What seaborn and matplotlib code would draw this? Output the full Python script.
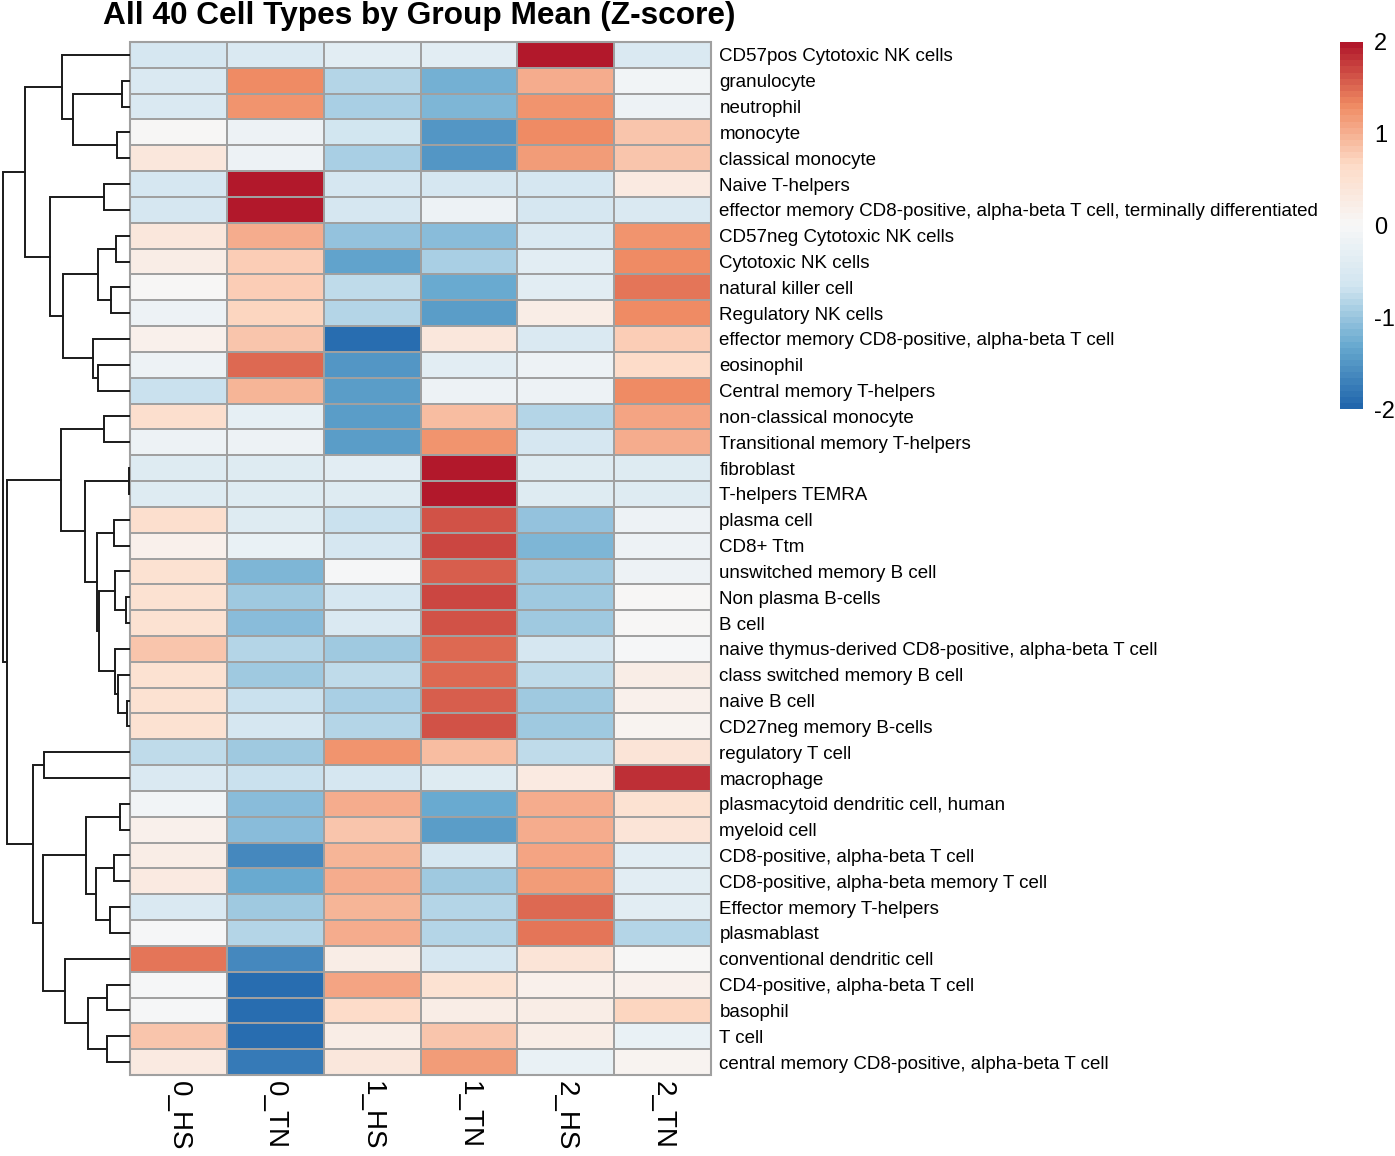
import numpy as np
import pandas as pd
import matplotlib
matplotlib.use("Agg")
import matplotlib.pyplot as plt
import seaborn as sns
from matplotlib.colors import LinearSegmentedColormap

sns.set_style("white")
plt.rcParams["font.family"] = ["Liberation Sans", "DejaVu Sans"]
plt.rcParams["text.color"] = "black"
plt.rcParams["xtick.color"] = "black"
plt.rcParams["ytick.color"] = "black"

groups = ["0_HS", "0_TN", "1_HS", "1_TN", "2_HS", "2_TN"]

cell_types = [
    "CD57pos Cytotoxic NK cells", "granulocyte", "neutrophil", "monocyte",
    "classical monocyte", "Naive T-helpers",
    "effector memory CD8-positive, alpha-beta T cell, terminally differentiated",
    "CD57neg Cytotoxic NK cells", "Cytotoxic NK cells", "natural killer cell",
    "Regulatory NK cells", "effector memory CD8-positive, alpha-beta T cell",
    "eosinophil", "Central memory T-helpers", "non-classical monocyte",
    "Transitional memory T-helpers", "fibroblast", "T-helpers TEMRA",
    "plasma cell", "CD8+ Ttm", "unswitched memory B cell", "Non plasma B-cells",
    "B cell", "naive thymus-derived CD8-positive, alpha-beta T cell",
    "class switched memory B cell", "naive B cell", "CD27neg memory B-cells",
    "regulatory T cell", "macrophage", "plasmacytoid dendritic cell, human",
    "myeloid cell", "CD8-positive, alpha-beta T cell",
    "CD8-positive, alpha-beta memory T cell", "Effector memory T-helpers",
    "plasmablast", "conventional dendritic cell", "CD4-positive, alpha-beta T cell",
    "basophil", "T cell", "central memory CD8-positive, alpha-beta T cell",
]

# z-scores per group (columns follow `groups`)
z_0_HS = [-0.55, -0.5, -0.5, 0.05, 0.35, -0.55, -0.55, 0.35, 0.25, 0.05,
          -0.15, 0.15, -0.2, -0.7, 0.55, -0.15, -0.45, -0.45, 0.55, 0.15,
          0.5, 0.5, 0.5, 0.8, 0.5, 0.5, 0.5, -0.8, -0.5, -0.1,
          0.15, 0.25, 0.3, -0.5, -0.05, 1.42, -0.05, -0.05, 0.8, 0.3]
z_0_TN = [-0.5, 1.33, 1.2, -0.2, -0.2, 1.97, 1.98, 1.0, 0.75, 0.75,
          0.7, 0.85, 1.52, 0.95, -0.3, -0.2, -0.45, -0.45, -0.45, -0.25,
          -1.2, -0.95, -1.1, -0.85, -1.0, -0.7, -0.6, -1.0, -0.7, -1.1,
          -1.1, -1.6, -1.33, -1.0, -0.85, -1.6, -1.9, -1.9, -1.9, -1.77]
z_1_HS = [-0.4, -0.85, -0.9, -0.65, -0.9, -0.6, -0.55, -1.05, -1.35, -0.75,
          -0.85, -1.9, -1.52, -1.42, -1.42, -1.42, -0.4, -0.45, -0.7, -0.6,
          -0.05, -0.55, -0.5, -0.95, -0.8, -0.9, -0.85, 1.25, -0.55, 1.0,
          0.85, 0.95, 1.0, 0.95, 1.0, 0.2, 1.1, 0.6, 0.2, 0.35]
z_1_TN = [-0.35, -1.25, -1.17, -1.52, -1.52, -0.6, -0.15, -1.1, -0.9, -1.33,
          -1.44, 0.35, -0.35, -0.15, 0.9, 1.25, 2.0, 2.0, 1.6, 1.7,
          1.58, 1.7, 1.62, 1.53, 1.53, 1.58, 1.63, 0.9, -0.45, -1.33,
          -1.45, -0.6, -1.0, -0.85, -0.85, -0.6, 0.5, 0.2, 0.8, 1.15]
z_2_HS = [2.0, 1.0, 1.25, 1.3, 1.15, -0.6, -0.55, -0.5, -0.35, -0.35,
          0.25, -0.5, -0.15, -0.15, -0.85, -0.6, -0.45, -0.45, -1.05, -1.2,
          -0.95, -0.95, -0.95, -0.55, -0.8, -0.95, -0.95, -0.8, 0.3, 1.05,
          1.0, 1.1, 1.15, 1.52, 1.43, 0.4, 0.15, 0.25, 0.2, -0.25]
z_2_TN = [-0.5, -0.1, -0.15, 0.85, 0.85, 0.3, -0.5, 1.2, 1.33, 1.45,
          1.33, 0.75, 0.6, 1.33, 1.1, 1.05, -0.45, -0.45, -0.15, -0.2,
          -0.15, 0.05, 0.05, -0.05, 0.2, 0.15, 0.1, 0.45, 1.83, 0.5,
          0.45, -0.35, -0.35, -0.35, -0.85, 0.05, 0.15, 0.7, -0.25, 0.1]

# row clustering read from the tree: (left, right, distance); ids >= 40 are earlier merges
link_left = [1, 3, 40, 0, 5, 7, 9, 45, 12, 11, 47, 44, 43,
             14, 16, 18, 21, 20, 25, 24, 23, 57, 55, 54, 53,
             27, 29, 31, 33, 67, 66, 36, 38, 71, 35, 70, 65, 64, 52]
link_right = [2, 4, 41, 42, 6, 8, 10, 46, 13, 48, 49, 50, 51,
              15, 17, 19, 22, 56, 26, 58, 59, 60, 61, 62, 63,
              28, 30, 32, 34, 68, 69, 37, 39, 72, 73, 74, 75, 76, 77]
link_dist = [8, 13, 57, 68, 26, 14, 19, 32, 32, 37, 67, 80, 105,
             26, 1, 16, 4, 15, 3.3, 11.7, 15, 30.7, 33.3, 45, 69.3,
             85.7, 10, 15.7, 20, 34.3, 44, 23.3, 23.5, 41.7, 65, 87.3, 96.7, 122.7, 127.3]

df = pd.DataFrame({"0_HS": z_0_HS, "0_TN": z_0_TN, "1_HS": z_1_HS,
                   "1_TN": z_1_TN, "2_HS": z_2_HS, "2_TN": z_2_TN},
                  index=cell_types)[groups]

cmap = LinearSegmentedColormap.from_list(
    "rdbu7", ["#2166AC", "#67A9CF", "#D1E5F0", "#F7F7F7",
              "#FDDBC7", "#EF8A62", "#B2182B"], N=60)

W, H = 1395, 1156
fig = plt.figure(figsize=(W / 100, H / 100), dpi=100)
ax = fig.add_axes([130 / W, 1 - 1075 / H, 581 / W, 1033 / H])
ax_den = fig.add_axes([0, 1 - 1075 / H, 130 / W, 1033 / H])
cax = fig.add_axes([1340 / W, 1 - 409 / H, 23 / W, 367 / H])

sns.heatmap(df, ax=ax, cmap=cmap, vmin=-2, vmax=2, linewidths=1.3,
            linecolor="#A0A0A0", cbar_ax=cax, square=False)

# heatmap border
ax.add_patch(plt.Rectangle((0, 0), len(groups), len(cell_types), fill=False,
                           edgecolor="#A0A0A0", lw=1.5, clip_on=False))

ax.yaxis.tick_right()
ax.set_yticks(np.arange(len(cell_types)) + 0.5)
ax.set_yticklabels(cell_types, rotation=0, ha="left", fontsize=13.5)
ax.set_xticklabels(groups, rotation=270, fontsize=20, va="top")
ax.tick_params(axis="both", length=0)
ax.tick_params(axis="y", pad=6)
ax.tick_params(axis="x", pad=4)
ax.set_xlabel("")
ax.set_ylabel("")

cbar = ax.collections[0].colorbar
cbar.outline.set_visible(False)
cbar.set_ticks([-2, -1, 0, 1, 2])
cbar.set_ticklabels(["-2", "-1", "0", "1", "2"])
cax.tick_params(labelsize=17, length=0, pad=8)

# dendrogram from the linkage list
n = len(cell_types)
ypos = {i: i + 0.5 for i in range(n)}
hpos = {i: 0.0 for i in range(n)}
for k, (a, b, d) in enumerate(zip(link_left, link_right, link_dist)):
    node = n + k
    ya, yb = ypos[a], ypos[b]
    ax_den.plot([hpos[a], d, d, hpos[b]], [ya, ya, yb, yb],
                color="#1a1a1a", lw=1.4, solid_joinstyle="miter")
    ypos[node] = (ya + yb) / 2
    hpos[node] = d
ax_den.set_xlim(130, 0)
ax_den.set_ylim(n, 0)
ax_den.axis("off")

fig.text(103 / W, 1 - 16 / H, "All 40 Cell Types by Group Mean (Z-score)",
         fontsize=22.8, fontweight="bold", ha="left", va="center")

fig.savefig("out.png", dpi=100)
